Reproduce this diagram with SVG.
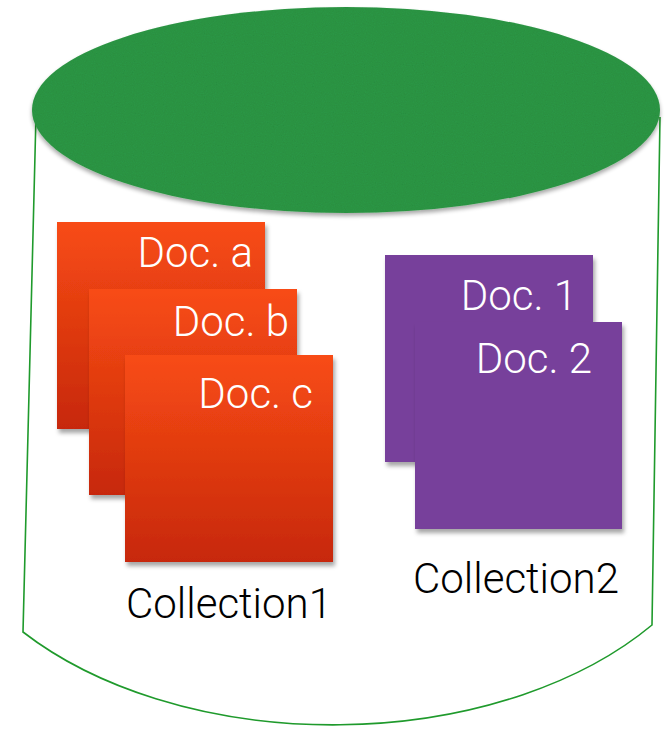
<svg xmlns="http://www.w3.org/2000/svg" width="666" height="729" viewBox="0 0 666 729">
  <defs>
    <linearGradient id="redFill" x1="0" y1="0" x2="0" y2="1">
      <stop offset="0" stop-color="#f84c15"/>
      <stop offset="1" stop-color="#c7280a"/>
    </linearGradient>
    <filter id="cardShadow" x="-10%" y="-10%" width="125%" height="125%">
      <feDropShadow dx="2" dy="4" stdDeviation="2" flood-color="#000" flood-opacity="0.35"/>
    </filter>
    <filter id="feltTop" x="-5%" y="-5%" width="110%" height="115%">
      <feTurbulence type="fractalNoise" baseFrequency="0.9" numOctaves="2" seed="3" result="noise"/>
      <feColorMatrix in="noise" type="matrix" values="0 0 0 0 0  0 0 0 0 0  0 0 0 0 0  0 0 0 0.18 0" result="grain"/>
      <feComposite in="grain" in2="SourceGraphic" operator="in" result="grainIn"/>
      <feMerge result="textured">
        <feMergeNode in="SourceGraphic"/>
        <feMergeNode in="grainIn"/>
      </feMerge>
      <feGaussianBlur in="SourceAlpha" stdDeviation="2" result="blurA"/>
      <feOffset in="blurA" dx="0" dy="3" result="offA"/>
      <feComponentTransfer in="offA" result="shadowA">
        <feFuncA type="linear" slope="0.35"/>
      </feComponentTransfer>
      <feMerge>
        <feMergeNode in="shadowA"/>
        <feMergeNode in="textured"/>
      </feMerge>
    </filter>
    <style>
      .wall { fill: none; stroke: #1f9a2c; stroke-width: 1.6; }
      .red { fill: url(#redFill); filter: url(#cardShadow); }
      .purple { fill: #773f9b; filter: url(#cardShadow); }
      .doc { font-family: "Roboto", "Liberation Sans", sans-serif; font-weight: 300; font-size: 42px; fill: #ffffff; text-anchor: end; }
      .caption { font-family: "Roboto", "Liberation Sans", sans-serif; font-weight: 300; font-size: 42px; fill: #000000; }
    </style>
  </defs>

  <!-- database cylinder -->
  <g id="cylinder">
    <path class="wall" d="M36,115 L23,632 A400,252 0 0 0 652,625 L660,117"/>
    <ellipse cx="346" cy="110" rx="314" ry="103" fill="#2f9a46" filter="url(#feltTop)"/>
  </g>

  <!-- first collection: three stacked documents -->
  <g id="collection1">
    <g id="doc-a">
      <rect class="red" x="57" y="222" width="208" height="207"/>
      <text class="doc" x="253" y="267">Doc. a</text>
    </g>
    <g id="doc-b">
      <rect class="red" x="89" y="289" width="208" height="206"/>
      <text class="doc" x="289" y="336">Doc. b</text>
    </g>
    <g id="doc-c">
      <rect class="red" x="125" y="355" width="208" height="207"/>
      <text class="doc" x="313" y="408">Doc. c</text>
    </g>
    <text class="caption" x="126" y="618">Collection1</text>
  </g>

  <!-- second collection: two stacked documents -->
  <g id="collection2">
    <g id="doc-1">
      <rect class="purple" x="385" y="255" width="208" height="207"/>
      <text class="doc" x="577" y="310">Doc. 1</text>
    </g>
    <g id="doc-2">
      <rect class="purple" x="415" y="322" width="207" height="207"/>
      <text class="doc" x="592" y="373">Doc. 2</text>
    </g>
    <text class="caption" x="413" y="593">Collection2</text>
  </g>
</svg>
